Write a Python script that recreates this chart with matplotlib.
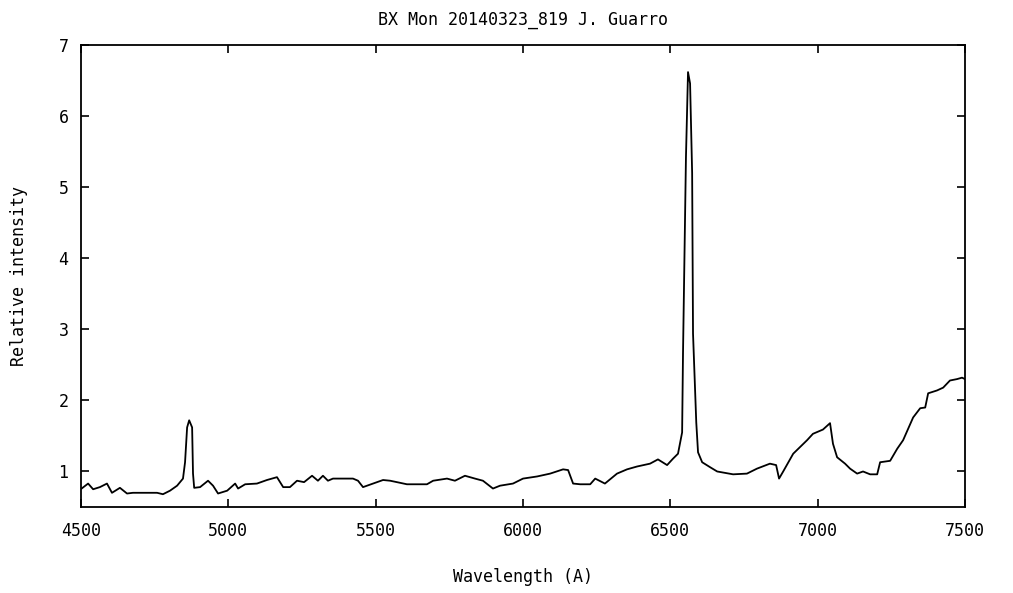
import matplotlib

matplotlib.use("Agg")
import matplotlib.pyplot as plt

# spectrum (wavelength in A, relative intensity)
wavelength = [
    4502, 4524, 4541, 4564, 4588, 4605, 4632, 4656, 4676, 4758, 4778, 4802, 4826, 4846,
    4853, 4860, 4867, 4877, 4880, 4884, 4904, 4931, 4948, 4965, 4996, 5023, 5033, 5057,
    5097, 5131, 5165, 5186, 5209, 5233, 5257, 5284, 5304, 5321, 5338, 5355, 5423, 5440,
    5457, 5491, 5525, 5549, 5572, 5606, 5674, 5695, 5742, 5769, 5803, 5837, 5864, 5898,
    5922, 5966, 6000, 6048, 6092, 6136, 6153, 6170, 6194, 6228, 6245, 6278, 6319, 6353,
    6387, 6431, 6458, 6489, 6509, 6526, 6540, 6543, 6553, 6560, 6567, 6574, 6577, 6588,
    6594, 6608, 6635, 6659, 6713, 6760, 6794, 6838, 6859, 6869, 6883, 6917, 6964, 6984,
    7018, 7042, 7052, 7066, 7093, 7110, 7134, 7154, 7178, 7202, 7212, 7246, 7270, 7290,
    7324, 7348, 7365, 7375, 7405, 7426, 7449, 7473, 7490, 7500,
]
intensity = [
    0.76, 0.83, 0.75, 0.78, 0.83, 0.70, 0.77, 0.69, 0.70, 0.70, 0.68, 0.73, 0.80, 0.90,
    1.13, 1.62, 1.72, 1.62, 0.97, 0.77, 0.78, 0.87, 0.80, 0.69, 0.73, 0.83, 0.76, 0.82,
    0.83, 0.88, 0.92, 0.78, 0.78, 0.87, 0.85, 0.94, 0.87, 0.94, 0.87, 0.90, 0.90, 0.87,
    0.78, 0.83, 0.88, 0.87, 0.85, 0.82, 0.82, 0.87, 0.90, 0.87, 0.94, 0.90, 0.87, 0.76,
    0.80, 0.83, 0.90, 0.93, 0.97, 1.03, 1.02, 0.83, 0.82, 0.82, 0.90, 0.83, 0.97, 1.03,
    1.07, 1.11, 1.17, 1.09, 1.18, 1.25, 1.55, 2.66, 5.42, 6.62, 6.46, 5.20, 2.94, 1.69,
    1.27, 1.13, 1.06, 1.00, 0.96, 0.97, 1.04, 1.11, 1.09, 0.90, 1.00, 1.25, 1.44, 1.53,
    1.59, 1.68, 1.39, 1.20, 1.11, 1.04, 0.97, 1.00, 0.96, 0.96, 1.13, 1.15, 1.32, 1.44,
    1.76, 1.89, 1.90, 2.10, 2.14, 2.18, 2.28, 2.30, 2.32, 2.30,
]
x_ticks = [4500, 5000, 5500, 6000, 6500, 7000, 7500]
y_ticks = [1, 2, 3, 4, 5, 6, 7]

plt.rcParams["font.family"] = ["DejaVu Sans Mono"]

fig = plt.figure(figsize=(10.13, 5.93), dpi=100)
ax = fig.add_axes([0.080, 0.145, 0.8726, 0.779])
ax.plot(wavelength, intensity, color="black", linewidth=1.3)
ax.set_xlim(4500, 7500)
ax.set_ylim(0.5, 7)
ax.set_xticks(x_ticks)
ax.set_yticks(y_ticks)
ax.tick_params(direction="in", length=6, width=1.2, top=True, right=True, labelsize=12)
ax.tick_params(axis="x", pad=11)
ax.tick_params(axis="y", pad=9)
for spine in ax.spines.values():
    spine.set_linewidth(1.3)
ax.set_title("BX Mon 20140323_819 J. Guarro", fontsize=12, pad=15)
ax.set_xlabel("Wavelength (A)", fontsize=12, labelpad=20)
ax.set_ylabel("Relative intensity", fontsize=12, labelpad=22)
fig.savefig("out.png")
